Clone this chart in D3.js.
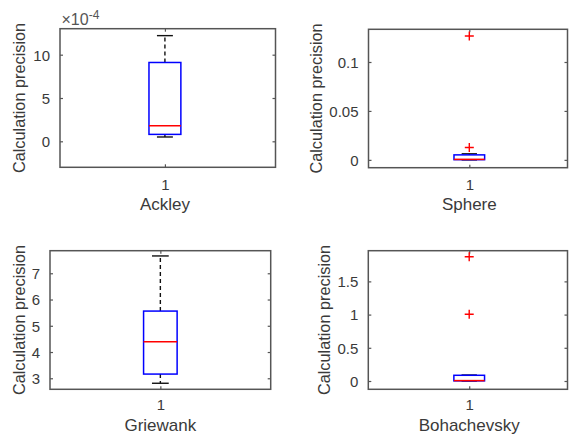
<!DOCTYPE html>
<html><head><meta charset="utf-8">
<script src="https://cdn.jsdelivr.net/npm/d3@7"></script>
<style>body{margin:0;background:#fff}svg{display:block;font-family:"Liberation Sans",Arial,sans-serif}</style>
</head><body><svg id="c" width="569" height="438"></svg>
<script>
// ---- data ----
const functions = ["Ackley", "Sphere", "Griewank", "Bohachevsky"];
// box statistics: [lower whisker, Q1, median, Q3, upper whisker]
const ackleyStats = [0.5, 0.8, 1.8, 9.1, 12.2];          // ×1e-4
const sphereStats = [0, 0.0002, 0.0005, 0.0051, 0.0062];
const griewankStats = [2.81, 3.16, 4.39, 5.56, 7.66];
const bohachevskyStats = [0, 0.002, 0.006, 0.086, 0.09];
const ackleyOutliers = [];
const sphereOutliers = [0.1265, 0.0126];
const griewankOutliers = [];
const bohachevskyOutliers = [1.872, 1.004];
const ackleyTicks = [0, 5, 10];
const sphereTicks = [0, 0.05, 0.1];
const griewankTicks = [3, 4, 5, 6, 7];
const bohachevskyTicks = [0, 0.5, 1, 1.5];
const ackleyDomain = [-3, 13];
const sphereDomain = [-0.008, 0.1334];
const griewankDomain = [2.58, 7.86];
const bohachevskyDomain = [-0.125, 1.962];
const xCategory = ["1"];
const yLabel = "Calculation precision";

// ---- layout ----
const panels = [
  {name: functions[0], stats: ackleyStats, out: ackleyOutliers, ticks: ackleyTicks, dom: ackleyDomain,
   x0: 60, x1: 275.5, y0: 28.7, y1: 167.3, xhi: 1.527, ylx: 25, tickB: 190, labB: 210, exp: true},
  {name: functions[1], stats: sphereStats, out: sphereOutliers, ticks: sphereTicks, dom: sphereDomain,
   x0: 368.5, x1: 567.5, y0: 29.3, y1: 167.7, xhi: 1.487, ylx: 321.5, tickB: 190, labB: 209.5},
  {name: functions[2], stats: griewankStats, out: griewankOutliers, ticks: griewankTicks, dom: griewankDomain,
   x0: 50, x1: 270.7, y0: 250.7, y1: 389.3, xhi: 1.5, ylx: 25, tickB: 410, labB: 431},
  {name: functions[3], stats: bohachevskyStats, out: bohachevskyOutliers, ticks: bohachevskyTicks, dom: bohachevskyDomain,
   x0: 368.3, x1: 567.5, y0: 250.7, y1: 389.3, xhi: 1.487, ylx: 329.5, tickB: 410, labB: 430.5}
];

const svg = d3.select("#c");
const textCol = "#3a3a3a", axCol = "#555";
const halfW = 0.076;

panels.forEach(p => {
  const g = svg.append("g");
  const x = d3.scaleLinear().domain([0.5, p.xhi]).range([p.x0, p.x1]);
  const y = d3.scaleLinear().domain(p.dom).range([p.y1, p.y0]);
  const fmt = v => String(+v.toFixed(4));

  const left = g.append("g").attr("transform", `translate(${p.x0},0)`)
    .call(d3.axisLeft(y).tickValues(p.ticks).tickFormat(fmt).tickSizeInner(-3).tickSizeOuter(0).tickPadding(10));
  const right = g.append("g").attr("transform", `translate(${p.x1},0)`)
    .call(d3.axisRight(y).tickValues(p.ticks).tickFormat("").tickSizeInner(-3).tickSizeOuter(0));
  const bottom = g.append("g").attr("transform", `translate(0,${p.y1})`)
    .call(d3.axisBottom(x).tickValues([1]).tickFormat(() => xCategory[0]).tickSizeInner(-3).tickSizeOuter(0).tickPadding(14));
  const top = g.append("g").attr("transform", `translate(0,${p.y0})`)
    .call(d3.axisTop(x).tickValues([1]).tickFormat("").tickSizeInner(-3).tickSizeOuter(0));
  [left, right, bottom, top].forEach(a => {
    a.select(".domain").remove();
    a.selectAll("line").attr("stroke", axCol).attr("stroke-width", 1.2);
    a.selectAll("text").attr("fill", textCol).attr("font-size", 15).attr("font-family", "Liberation Sans, Arial, sans-serif");
  });
  bottom.selectAll("text").attr("dy", null).attr("y", p.tickB - p.y1);
  left.selectAll("text").attr("dy", "0.36em");

  g.append("rect").attr("x", p.x0).attr("y", p.y0).attr("width", p.x1 - p.x0).attr("height", p.y1 - p.y0)
    .attr("fill", "none").attr("stroke", axCol).attr("stroke-width", 1.5);

  const [lo, q1, med, q3, hi] = p.stats;
  const cx = x(1);
  const bw = x(1 + halfW) - cx;
  g.append("line").attr("x1", cx).attr("x2", cx).attr("y1", y(q3)).attr("y2", y(hi))
    .attr("stroke", "#111").attr("stroke-width", 1.4).attr("stroke-dasharray", "4,3");
  g.append("line").attr("x1", cx).attr("x2", cx).attr("y1", y(q1)).attr("y2", y(lo))
    .attr("stroke", "#111").attr("stroke-width", 1.4).attr("stroke-dasharray", "4,3");
  [lo, hi].forEach(v => g.append("line").attr("x1", cx - bw / 2).attr("x2", cx + bw / 2)
    .attr("y1", y(v)).attr("y2", y(v)).attr("stroke", "#111").attr("stroke-width", 1.4));
  g.append("rect").attr("x", cx - bw).attr("y", y(q3)).attr("width", 2 * bw).attr("height", Math.max(0, y(q1) - y(q3)))
    .attr("fill", "none").attr("stroke", "#0000ff").attr("stroke-width", 1.5);
  g.append("line").attr("x1", cx - bw).attr("x2", cx + bw).attr("y1", y(med)).attr("y2", y(med))
    .attr("stroke", "#ff0000").attr("stroke-width", 1.5);
  p.out.forEach(v => {
    g.append("path").attr("d", `M${cx - 4.5},${y(v)}H${cx + 4.5}M${cx},${y(v) - 4.5}V${y(v) + 4.5}`)
      .attr("stroke", "#ff0000").attr("stroke-width", 1.4).attr("fill", "none");
  });

  g.append("text").attr("x", cx).attr("y", p.labB).attr("text-anchor", "middle")
    .attr("font-size", 17).attr("fill", textCol).text(p.name);
  g.append("text").attr("transform", `translate(${p.ylx},${(p.y0 + p.y1) / 2}) rotate(-90)`)
    .attr("text-anchor", "middle").attr("font-size", 16.3).attr("fill", textCol).text(yLabel);
  if (p.exp) {
    const t = g.append("text").attr("x", p.x0 + 1.5).attr("y", p.y0 - 4).attr("font-size", 16).attr("fill", "#555");
    t.append("tspan").text("×10");
    t.append("tspan").attr("font-size", 12).attr("dy", -6).text("-4");
  }
});
</script></body></html>
